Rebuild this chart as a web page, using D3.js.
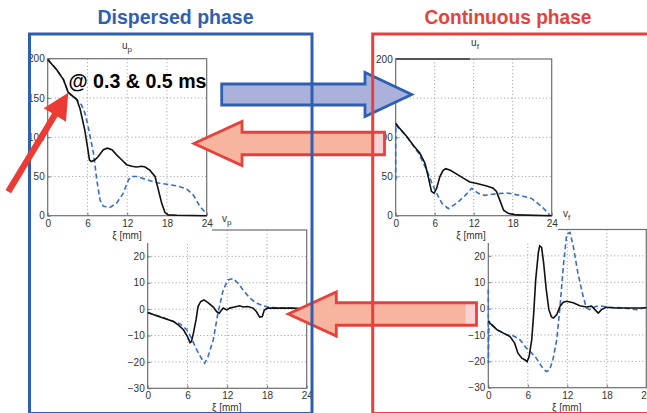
<!DOCTYPE html>
<html><head><meta charset="utf-8">
<script src="https://cdn.jsdelivr.net/npm/d3@7"></script>
<style>body{margin:0;background:#fff}svg{display:block}text{font-family:"Liberation Sans",Arial,sans-serif}</style>
</head><body>
<script>
const xiTicks = [0, 6, 12, 18, 24];
const uTicks = [0, 50, 100, 150, 200];
const vTicks = [-30, -20, -10, 0, 10, 20];

// u_p (dispersed phase velocity), [xi mm, value]
const upSolid = [[0,199],[1.36,186],[2.4,173],[3.1,157],[4.4,148],[4.9,135.5],[5.6,109],[6.0,88],[6.3,71],[6.6,69],[7.1,71],[7.6,75],[8.4,84],[9.0,86],[9.7,84],[10.4,77.5],[11.2,71],[11.9,65],[12.7,63],[13.4,62],[14.2,63],[14.7,62],[15.4,58],[16.2,50],[16.7,33],[17.2,16],[17.7,4],[18.2,1],[19.5,0.5],[24,0]];
const upDashed = [[0,199],[1.36,186],[2.4,173],[3.1,157],[4.4,148],[5.1,141],[5.6,131],[6.0,118],[6.4,101],[6.9,80],[7.1,67],[7.4,46],[7.9,20],[8.4,12],[9.4,10.6],[10.4,16],[11.4,28.5],[12.2,46],[12.7,50],[13.4,50],[14.9,46],[16.5,42],[18.0,40],[19.5,38],[21.0,34],[22.0,26],[23.0,11.5],[24,2]];
// u_f (continuous phase)
const ufSolid = [[0,118],[0.4,113.6],[1.7,101],[2.7,90],[3.7,80],[4.5,67],[5.0,50],[5.5,31],[5.9,28.5],[6.3,35],[6.8,50],[7.3,58],[7.7,60],[8.4,58],[9.4,53],[10.4,48],[11.4,43],[12.5,41],[14.0,38],[15.0,35],[15.5,31],[16.1,18],[16.6,7],[17.3,3],[18.6,1],[24,0]];
const ufDashed = [[0,45],[0,116],[1.7,101],[3.5,80],[4.8,58],[5.5,43],[6.3,28.5],[7.1,16],[8.1,9],[9.4,16],[10.7,26],[11.7,35],[12.7,28.5],[13.7,26],[15.5,28],[17.1,29],[19.1,26],[20.9,22],[22.5,11.5],[23.7,1]];
// v_p
const vpSolid = [[0,-1.3],[1.35,-2.5],[2.9,-3.8],[3.9,-4.7],[4.6,-6],[5.4,-7.8],[6.0,-10.4],[6.4,-12.7],[6.6,-12.3],[6.9,-9.1],[7.3,-4],[7.6,1],[8.0,2.9],[8.5,3.5],[9.1,2.5],[9.9,0.8],[10.4,-0.9],[10.8,-1.5],[11.1,-0.5],[11.4,0.4],[11.9,-0.3],[12.4,0.4],[13.1,0.8],[13.9,1.3],[14.4,0.8],[15.1,1],[15.9,0.4],[16.4,-0.9],[16.9,-3],[17.3,-2.8],[17.6,-0.3],[18.1,0.4],[19.4,0.4],[21.9,0.4],[24,0.1]];
const vpDashed = [[0,-1.3],[1.85,-2.8],[3.9,-4.7],[4.9,-5.6],[5.9,-7.8],[6.6,-11],[7.4,-15.4],[8.1,-18.6],[8.6,-20.5],[9.1,-18],[9.9,-11.6],[10.6,-1.5],[11.4,7.3],[12.1,11.1],[12.9,11.6],[13.6,9.9],[14.4,7.3],[15.4,4.2],[16.4,2.3],[17.4,1.3],[18.4,0.6],[20.4,0.4],[22.1,0.4],[22.9,-0.9],[23.4,-1.3],[24,0]];
// v_f
const vfSolid = [[0,-4.8],[0.5,-6.1],[1.3,-8],[2.3,-9.3],[3.3,-10.6],[4.0,-13.1],[4.5,-16.9],[5.1,-18.8],[5.6,-19.5],[5.9,-20.1],[6.2,-18.2],[6.6,-11.8],[6.9,-1.7],[7.2,11],[7.6,21.2],[7.8,23.8],[8.1,23.2],[8.4,17.4],[8.8,7.3],[9.2,-0.4],[9.6,-3.2],[9.9,-3.6],[10.4,-2.3],[10.9,0.9],[11.4,2.4],[11.9,2.8],[12.9,2.2],[13.9,1.1],[14.9,0.6],[15.7,0.9],[16.2,-0.4],[16.7,-1.7],[17.2,-0.4],[17.9,0.5],[19.4,0.25],[21.5,0.25],[23.5,0.25],[24,0.3]];
const vfDashed = [[0,7.3],[0,-20.7],[0.1,-4.8],[1.3,-8],[2.8,-9.9],[3.8,-10.3],[4.8,-11.8],[5.8,-15],[6.6,-16.9],[7.3,-18.8],[8.1,-22],[8.8,-23.9],[9.3,-23.3],[9.8,-19.5],[10.4,-11.8],[10.9,0.9],[11.4,16.2],[11.9,28.2],[12.4,28.9],[12.9,23.8],[13.6,13.6],[14.4,4.7],[14.9,0.25],[15.4,-0.4],[16.4,0.9],[17.4,0.9],[18.4,0.5],[20.5,0.25],[22.5,-0.4],[24,0.5]];

const BLUE = "#2f5fb3", RED = "#e8413c", LINEBLUE = "#3b6cc6";
const W = 647, H = 413;
const svg = d3.select("body").append("svg").attr("width", W).attr("height", H);
svg.append("rect").attr("width", W).attr("height", H).attr("fill", "#fff");

function plot(g, cfg) {
  const x = d3.scaleLinear().domain([0, 24]).range([cfg.x0, cfg.x1]);
  const y = d3.scaleLinear().domain(cfg.yd).range([cfg.y1, cfg.y0]);
  g.selectAll(null).data(xiTicks.slice(1, -1)).enter().append("line")
    .attr("x1", d => x(d)).attr("x2", d => x(d)).attr("y1", cfg.y0).attr("y2", cfg.y1)
    .attr("stroke", "#999").attr("stroke-dasharray", "1,2.5");
  g.selectAll(null).data(cfg.ticks.filter(t => t > cfg.yd[0] && t < cfg.yd[1])).enter().append("line")
    .attr("y1", d => y(d)).attr("y2", d => y(d)).attr("x1", cfg.x0).attr("x2", cfg.x1)
    .attr("stroke", "#999").attr("stroke-dasharray", "1,2.5");
  const ax = g.append("g").attr("transform", `translate(0,${cfg.y1})`)
    .call(d3.axisBottom(x).tickValues(xiTicks).tickSize(-3).tickPadding(4).tickFormat(d3.format("d")));
  const ay = g.append("g").attr("transform", `translate(${cfg.x0},0)`)
    .call(d3.axisLeft(y).tickValues(cfg.ticks).tickSize(-3).tickPadding(3).tickFormat(d => d < 0 ? "\u2212" + Math.abs(d) : d));
  [ax, ay].forEach(a => {
    a.select(".domain").remove();
    a.selectAll("line").attr("stroke", "#777");
    a.selectAll("text").attr("font-size", 10).attr("fill", "#333").attr("font-family", "Liberation Sans, Arial, sans-serif");
  });
  g.append("rect").attr("x", cfg.x0).attr("y", cfg.y0).attr("width", cfg.x1 - cfg.x0).attr("height", cfg.y1 - cfg.y0)
    .attr("fill", "none").attr("stroke", "#6e6e6e").attr("stroke-width", 1.2);
  const line = d3.line().x(d => x(d[0])).y(d => y(d[1]));
  g.append("path").attr("d", line(cfg.dashed)).attr("fill", "none").attr("stroke", LINEBLUE)
    .attr("stroke-width", 1.6).attr("stroke-dasharray", "5,3");
  g.append("path").attr("d", line(cfg.solid)).attr("fill", "none").attr("stroke", "#111")
    .attr("stroke-width", 1.6);
  const t = g.append("text").attr("x", cfg.tx).attr("y", cfg.ty).attr("text-anchor", "middle")
    .attr("font-size", 10).attr("fill", "#333");
  t.append("tspan").text(cfg.title[0]);
  t.append("tspan").attr("dy", 3).attr("font-size", 8).text(cfg.title[1]);
  g.append("text").attr("x", cfg.lx).attr("y", cfg.ly).attr("text-anchor", "middle")
    .attr("font-size", 10).attr("fill", "#333").text("\u03BE  [mm]");
}

plot(svg.append("g"), {x0: 147.7, x1: 306.7, y0: 230, y1: 388.3, yd: [-30, 30], ticks: vTicks,
  solid: vpSolid, dashed: vpDashed, title: ["v", "p"], tx: 226.7, ty: 222, lx: 226.7, ly: 411});
plot(svg.append("g"), {x0: 488.3, x1: 646.3, y0: 229.5, y1: 387.7, yd: [-30, 30], ticks: vTicks,
  solid: vfSolid, dashed: vfDashed, title: ["v", "f"], tx: 566.7, ty: 217, lx: 566.7, ly: 411});
svg.append("rect").attr("x", 36).attr("y", 36).attr("width", 176).attr("height", 207).attr("fill", "#fff");
svg.append("rect").attr("x", 378).attr("y", 36).attr("width", 180).attr("height", 207).attr("fill", "#fff");
plot(svg.append("g"), {x0: 47.7, x1: 206.7, y0: 58.7, y1: 215.7, yd: [0, 200], ticks: uTicks,
  solid: upSolid, dashed: upDashed, title: ["u", "p"], tx: 127, ty: 49, lx: 127, ly: 239});
plot(svg.append("g"), {x0: 395.7, x1: 551.7, y0: 59, y1: 215.7, yd: [0, 200], ticks: uTicks,
  solid: ufSolid, dashed: ufDashed, title: ["u", "f"], tx: 475, ty: 46, lx: 471, ly: 239});
svg.append("line").attr("x1", 395.7).attr("x2", 470).attr("y1", 59).attr("y2", 59)
  .attr("stroke", "#555").attr("stroke-width", 2);

function blockArrow(tip, dir, headLen, headH, bodyH, bodyEnd, cy) {
  const hb = tip - dir * headLen;
  return [[tip, cy], [hb, cy - headH / 2], [hb, cy - bodyH / 2], [bodyEnd, cy - bodyH / 2],
          [bodyEnd, cy + bodyH / 2], [hb, cy + bodyH / 2], [hb, cy + headH / 2]];
}
const pts = p => p.map(d => d.join(",")).join(" ");
svg.append("polygon").attr("points", pts(blockArrow(411.7, 1, 46.7, 44, 21, 221.7, 94.5)))
  .attr("fill", "#aab2dc").attr("stroke", BLUE).attr("stroke-width", 2.8).attr("stroke-linejoin", "miter");
function redArrow(tip, bodyEnd, cy, lightFrom) {
  const p = blockArrow(tip, -1, 48, 44, 22.5, bodyEnd, cy);
  svg.append("polygon").attr("points", pts(p)).attr("fill", "#f7b5a0");
  svg.append("rect").attr("x", lightFrom).attr("y", cy - 11.25).attr("width", bodyEnd - lightFrom).attr("height", 22.5)
    .attr("fill", "#f9d2d3");
  svg.append("polygon").attr("points", pts(p)).attr("fill", "none").attr("stroke", RED).attr("stroke-width", 2.8);
}
redArrow(194, 384.5, 143.5, 373);
redArrow(288.3, 476.5, 314, 465.5);

svg.append("rect").attr("x", 29.5).attr("y", 34).attr("width", 282.5).attr("height", 379.5)
  .attr("fill", "none").attr("stroke", BLUE).attr("stroke-width", 3);
svg.append("rect").attr("x", 372.7).attr("y", 34).attr("width", 300).attr("height", 379.5)
  .attr("fill", "none").attr("stroke", RED).attr("stroke-width", 3);

svg.append("text").attr("x", 175.5).attr("y", 24).attr("text-anchor", "middle").attr("font-weight", "bold")
  .attr("font-size", 19.5).attr("fill", BLUE).attr("textLength", 156).attr("lengthAdjust", "spacingAndGlyphs")
  .text("Dispersed phase");
svg.append("text").attr("x", 508).attr("y", 24).attr("text-anchor", "middle").attr("font-weight", "bold")
  .attr("font-size", 19.5).attr("fill", RED).attr("textLength", 167).attr("lengthAdjust", "spacingAndGlyphs")
  .text("Continuous phase");
svg.append("text").attr("x", 68.5).attr("y", 87.5).attr("font-weight", "bold").attr("font-size", 19.5)
  .attr("fill", "#000").attr("textLength", 138).attr("lengthAdjust", "spacingAndGlyphs").text("@ 0.3 & 0.5 ms");

(function () {
  const s = [8.3, 191.7], t = [68.3, 92.7];
  const dx = t[0] - s[0], dy = t[1] - s[1], L = Math.hypot(dx, dy);
  const ux = dx / L, uy = dy / L, px = -uy, py = ux;
  const hl = 26, hw = 13, sw = 3.2;
  const b = [t[0] - ux * hl, t[1] - uy * hl];
  const poly = [
    [s[0] + px * sw, s[1] + py * sw], [b[0] + px * sw, b[1] + py * sw], [b[0] + px * hw, b[1] + py * hw], t,
    [b[0] - px * hw, b[1] - py * hw], [b[0] - px * sw, b[1] - py * sw], [s[0] - px * sw, s[1] - py * sw]];
  svg.append("polygon").attr("points", pts(poly)).attr("fill", "#ec3a35");
})();
</script>
</body></html>
